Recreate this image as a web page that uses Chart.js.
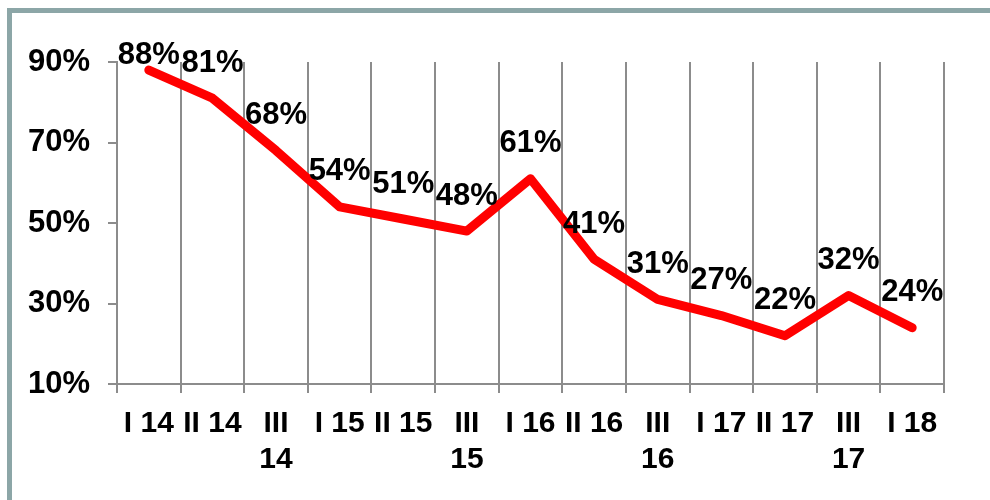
<!DOCTYPE html>
<html>
<head>
<meta charset="utf-8">
<script src="https://cdn.jsdelivr.net/npm/chart.js@4"></script>
<style>
  html, body { margin: 0; padding: 0; background: #fff; }
  #wrap { position: relative; width: 990px; height: 500px; overflow: hidden; }
  #frame { position: absolute; left: 7px; top: 8px; width: 1100px; height: 600px;
           border: 5px solid #8ca6a7; box-sizing: border-box; }
  #chart { position: absolute; left: 0; top: 0; }
</style>
</head>
<body>
<div id="wrap">
  <div id="frame"></div>
  <canvas id="chart" width="990" height="500"></canvas>
</div>
<script>
var quarters = ["I 14", "II 14", "III 14", "I 15", "II 15", "III 15", "I 16",
                "II 16", "III 16", "I 17", "II 17", "III 17", "I 18"];
var shares = [88, 81, 68, 54, 51, 48, 61, 41, 31, 27, 22, 32, 24];
var yTicks = [10, 30, 50, 70, 90];

var gridGray = "#8c8c8c";
var yFont = { family: "'Liberation Sans', Arial, sans-serif", size: 31, weight: "bold" };
var xFont = { family: "'Liberation Sans', Arial, sans-serif", size: 30, weight: "bold", lineHeight: 1.22 };

// labels above each point, kept below the frame top
var valueLabels = {
    id: "valueLabels",
    afterDatasetsDraw(chart) {
        var ctx = chart.ctx;
        var meta = chart.getDatasetMeta(0);
        ctx.save();
        ctx.font = "bold 31px 'Liberation Sans', Arial, sans-serif";
        ctx.fillStyle = "#000";
        ctx.textAlign = "center";
        ctx.textBaseline = "middle";
        meta.data.forEach((pt, i) => {
            var y = Math.max(pt.y - 35, 55);
            ctx.fillText(shares[i] + "%", pt.x, y);
        });
        ctx.restore();
    }
};

new Chart(document.getElementById("chart").getContext("2d"), {
    type: "line",
    data: {
        labels: quarters,
        datasets: [{
            data: shares,
            borderColor: "#ff0000",
            borderWidth: 9,
            borderCapStyle: "round",
            borderJoinStyle: "round",
            pointRadius: 0,
            tension: 0,
            fill: false
        }]
    },
    options: {
        responsive: false,
        animation: false,
        layout: { padding: { left: 0, top: 62, right: 46, bottom: 0 } },
        plugins: { legend: { display: false }, tooltip: { enabled: false } },
        scales: {
            x: {
                offset: true,
                grid: { offset: true, color: gridGray, lineWidth: 2, tickLength: 9, drawOnChartArea: true },
                border: { color: gridGray, width: 2 },
                ticks: {
                    color: "#000",
                    font: xFont,
                    padding: 12,
                    maxRotation: 0,
                    autoSkip: false,
                    callback: function(v, i) {
                        var s = quarters[i];
                        return s.indexOf("III") === 0 ? s.split(" ") : s;
                    }
                },
                afterFit: function(scale) { scale.height = 116; }
            },
            y: {
                min: 10,
                max: 90,
                afterBuildTicks: function(scale) {
                    scale.ticks = yTicks.map(v => ({ value: v }));
                },
                grid: { drawOnChartArea: false, color: gridGray, lineWidth: 2, tickLength: 9 },
                border: { color: gridGray, width: 2 },
                ticks: {
                    color: "#000",
                    font: yFont,
                    padding: 18,
                    callback: function(v) { return v + "%"; }
                },
                afterFit: function(scale) { scale.width = 117; }
            }
        }
    },
    plugins: [valueLabels]
});
</script>
</body>
</html>
